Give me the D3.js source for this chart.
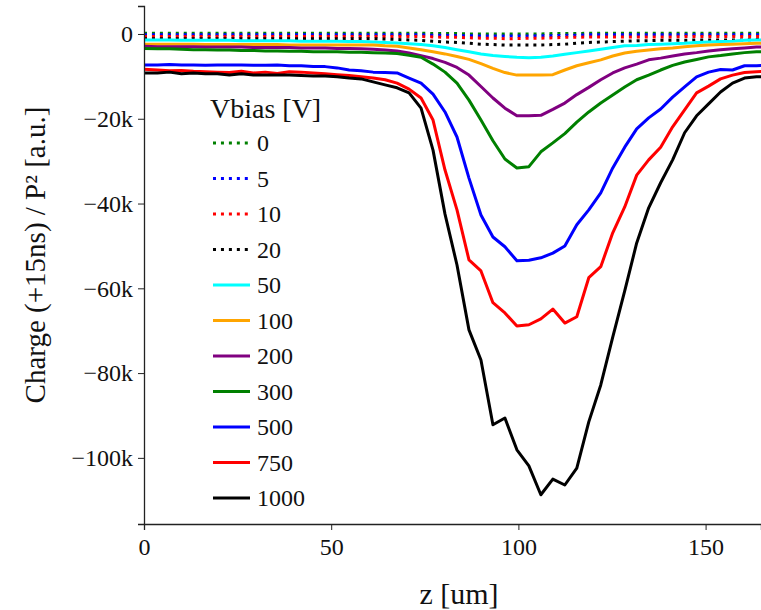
<!DOCTYPE html>
<html>
<head>
<meta charset="utf-8">
<script src="https://cdn.jsdelivr.net/npm/d3@7"></script>
<style>
  body { margin: 0; background: #fff; }
  svg { display: block; font-family: "Liberation Serif", "Times New Roman", serif; }
</style>
</head>
<body>
<svg id="chart"></svg>
<script>
// z positions [um]
const z = [0.0, 3.6, 6.8, 10.0, 13.2, 16.4, 19.6, 22.8, 26.0, 29.2,
  32.4, 35.6, 38.8, 42.0, 45.2, 48.4, 51.6, 54.8, 58.0, 61.2,
  64.4, 67.6, 70.8, 74.0, 77.2, 80.4, 83.6, 86.8, 90.0, 93.2,
  96.4, 99.6, 102.8, 106.0, 109.2, 112.4, 115.6, 118.8, 122.0, 125.2,
  128.4, 131.6, 134.8, 138.0, 141.2, 144.4, 147.6, 150.8, 154.0, 157.2,
  160.4, 163.6, 166.8];

// charge values, in thousands (k)
const q0 = [0.2, 0.2, 0.2, 0.2, 0.2, 0.2, 0.2, 0.2, 0.2, 0.2,
  0.2, 0.2, 0.2, 0.2, 0.2, 0.2, 0.2, 0.2, 0.2, 0.2,
  0.2, 0.2, 0.2, 0.2, 0.1, 0.1, 0.1, 0.0, 0.0, 0.0,
  0.0, 0.0, 0.0, 0.0, 0.1, 0.1, 0.1, 0.2, 0.2, 0.2,
  0.2, 0.2, 0.2, 0.2, 0.2, 0.2, 0.2, 0.2, 0.2, 0.2,
  0.2, 0.2, 0.2];
const q5 = [-0.2, -0.2, -0.2, -0.2, -0.2, -0.2, -0.2, -0.2, -0.2, -0.2,
  -0.2, -0.2, -0.2, -0.2, -0.2, -0.2, -0.2, -0.2, -0.2, -0.2,
  -0.2, -0.2, -0.2, -0.2, -0.3, -0.3, -0.4, -0.4, -0.5, -0.5,
  -0.5, -0.5, -0.5, -0.4, -0.4, -0.3, -0.3, -0.2, -0.2, -0.2,
  -0.2, -0.2, -0.2, -0.2, -0.2, -0.2, -0.2, -0.2, -0.2, -0.2,
  -0.2, -0.2, -0.2];
const q10 = [-0.6, -0.6, -0.6, -0.6, -0.6, -0.6, -0.6, -0.6, -0.6, -0.6,
  -0.6, -0.6, -0.6, -0.6, -0.6, -0.6, -0.6, -0.6, -0.6, -0.6,
  -0.6, -0.6, -0.6, -0.6, -0.7, -0.8, -0.8, -0.9, -1.0, -1.0,
  -1.1, -1.1, -1.0, -1.0, -0.9, -0.8, -0.8, -0.7, -0.7, -0.7,
  -0.7, -0.7, -0.7, -0.7, -0.7, -0.6, -0.6, -0.6, -0.6, -0.6,
  -0.6, -0.6, -0.6];
const q20 = [-1.1, -1.1, -1.1, -1.1, -1.1, -1.1, -1.1, -1.1, -1.1, -1.1,
  -1.1, -1.1, -1.1, -1.1, -1.1, -1.1, -1.1, -1.1, -1.1, -1.1,
  -1.2, -1.3, -1.4, -1.5, -1.7, -1.9, -2.0, -2.2, -2.4, -2.5,
  -2.6, -2.6, -2.6, -2.6, -2.5, -2.4, -2.2, -2.0, -1.9, -1.8,
  -1.7, -1.6, -1.6, -1.5, -1.5, -1.5, -1.4, -1.4, -1.4, -1.4,
  -1.4, -1.3, -1.3];
const q50 = [-1.4, -1.4, -1.4, -1.5, -1.5, -1.5, -1.5, -1.5, -1.6, -1.6,
  -1.6, -1.6, -1.6, -1.7, -1.7, -1.7, -1.7, -1.8, -1.8, -1.9,
  -2.0, -2.1, -2.3, -2.5, -2.8, -3.2, -3.7, -4.2, -4.7, -5.1,
  -5.3, -5.5, -5.6, -5.5, -5.2, -4.8, -4.4, -4.0, -3.6, -3.2,
  -2.8, -2.7, -2.5, -2.4, -2.3, -2.2, -2.0, -1.9, -1.8, -1.7,
  -1.5, -1.4, -1.4];
const q100 = [-2.4, -2.4, -2.4, -2.4, -2.4, -2.5, -2.5, -2.5, -2.5, -2.5,
  -2.5, -2.5, -2.6, -2.6, -2.6, -2.6, -2.6, -2.6, -2.6, -2.6,
  -2.8, -2.9, -3.3, -3.7, -4.2, -4.7, -5.3, -6.0, -7.0, -8.1,
  -9.1, -9.7, -9.7, -9.7, -9.6, -8.5, -7.5, -6.8, -6.1, -5.2,
  -4.5, -4.1, -3.8, -3.5, -3.3, -3.0, -2.8, -2.6, -2.5, -2.4,
  -2.3, -2.2, -2.2];
const q200 = [-2.9, -3.0, -3.0, -3.0, -3.0, -3.1, -3.1, -3.1, -3.1, -3.2,
  -3.2, -3.2, -3.2, -3.3, -3.3, -3.3, -3.4, -3.4, -3.5, -3.6,
  -3.8, -4.0, -4.5, -5.1, -5.8, -6.7, -7.9, -9.7, -12.4, -15.1,
  -17.5, -19.3, -19.3, -19.2, -17.8, -16.3, -14.3, -12.6, -10.8, -9.2,
  -8.0, -7.1, -6.1, -5.7, -5.2, -4.7, -4.4, -4.0, -3.7, -3.5,
  -3.3, -3.1, -3.1];
const q300 = [-3.4, -3.5, -3.5, -3.6, -3.7, -3.7, -3.8, -3.8, -3.9, -3.9,
  -4.0, -4.0, -4.1, -4.1, -4.2, -4.2, -4.2, -4.3, -4.3, -4.4,
  -4.5, -4.6, -5.0, -5.5, -7.1, -9.0, -11.6, -15.6, -20.3, -25.2,
  -29.5, -31.6, -31.3, -27.8, -25.7, -23.5, -20.8, -18.4, -16.3, -14.4,
  -12.5, -10.8, -9.7, -8.5, -7.4, -6.6, -6.0, -5.4, -5.1, -4.7,
  -4.4, -4.2, -4.2];
const q500 = [-7.3, -7.3, -7.2, -7.3, -7.3, -7.4, -7.3, -7.3, -7.3, -7.4,
  -7.4, -7.3, -7.5, -7.5, -7.7, -7.7, -8.0, -8.5, -8.7, -9.0,
  -9.1, -9.2, -10.4, -11.6, -14.2, -18.4, -24.3, -34.0, -42.7, -47.9,
  -50.2, -53.5, -53.4, -52.8, -51.7, -50.0, -45.0, -41.5, -37.5, -31.6,
  -26.7, -22.4, -19.8, -17.7, -14.9, -12.5, -10.1, -9.0, -8.4, -8.5,
  -7.5, -7.5, -7.4];
const q750 = [-8.3, -8.5, -8.7, -8.6, -8.8, -8.9, -9.0, -9.1, -8.8, -9.2,
  -9.0, -9.3, -8.9, -9.0, -9.2, -9.4, -9.6, -9.8, -10.1, -10.4,
  -10.8, -11.6, -13.0, -15.1, -20.3, -32.1, -41.5, -53.3, -55.9, -63.4,
  -65.8, -68.9, -68.6, -67.2, -64.9, -68.2, -66.7, -57.5, -54.9, -46.9,
  -40.8, -33.3, -29.7, -26.7, -21.9, -17.9, -13.9, -12.3, -10.6, -9.7,
  -9.1, -8.9, -8.8];
const q1000 = [-9.2, -9.2, -9.0, -9.4, -9.2, -9.4, -9.4, -9.7, -9.4, -9.7,
  -9.7, -9.7, -9.7, -9.8, -9.9, -9.9, -10.1, -10.4, -10.6, -11.3,
  -12.0, -12.7, -13.9, -17.5, -27.4, -42.5, -54.5, -69.8, -76.9, -92.2,
  -90.6, -98.1, -101.9, -108.7, -105.0, -106.4, -102.4, -91.5, -82.8, -71.5,
  -60.6, -49.3, -41.0, -35.1, -29.7, -23.3, -19.3, -16.5, -13.7, -11.6,
  -10.4, -10.1, -10.1];

const vbias = ["0", "5", "10", "20", "50", "100", "200", "300", "500", "750", "1000"];
const colors = ["green", "blue", "red", "black", "cyan", "orange", "purple", "green", "blue", "red", "black"];
const dotted = [true, true, true, true, false, false, false, false, false, false, false];
const xTicks = [0, 50, 100, 150];
const yTicks = [0, -20, -40, -60, -80, -100];

const values = [q0, q5, q10, q20, q50, q100, q200, q300, q500, q750, q1000];
const series = vbias.map((v, i) => ({
  label: v, color: colors[i], dotted: dotted[i],
  points: z.map((zz, j) => [zz, values[i][j]])
}));

const W = 761, H = 610;
const plotL = 144, plotR = 761, plotT = 6, plotB = 524;

const svg = d3.select("#chart").attr("width", W).attr("height", H);

const x = d3.scaleLinear([0, 164.8], [plotL, plotR]);
const y = d3.scaleLinear([-115.6, 6.6], [plotB, plotT]);

svg.append("clipPath").attr("id", "area")
  .append("rect")
  .attr("x", plotL).attr("y", plotT)
  .attr("width", plotR - plotL).attr("height", plotB - plotT);

const line = d3.line().x(d => x(d[0])).y(d => y(d[1]));

svg.append("g").attr("clip-path", "url(#area)")
  .selectAll("path")
  .data(series)
  .join("path")
  .attr("fill", "none")
  .attr("stroke", d => d.color)
  .attr("stroke-width", 3)
  .attr("stroke-dasharray", d => d.dotted ? "3,4.95" : null)
  .attr("stroke-linejoin", "round")
  .attr("d", d => line(d.points));

// axes
const fmt = v => v === 0 ? "0" : "\u2212" + Math.abs(v) + "k";

const gy = svg.append("g")
  .attr("transform", `translate(${plotL},0)`)
  .call(d3.axisLeft(y).tickValues(yTicks).tickFormat(fmt).tickSizeOuter(0).tickSize(6).tickPadding(5));
const gx = svg.append("g")
  .attr("transform", `translate(0,${plotB})`)
  .call(d3.axisBottom(x).tickValues(xTicks).tickFormat(d3.format("d")).tickSizeOuter(0).tickSize(6).tickPadding(8));

[gx, gy].forEach(g => {
  g.attr("font-family", null).attr("font-size", null);
  g.select(".domain").attr("stroke", "#222").attr("stroke-width", 1.3);
  g.selectAll(".tick line").attr("stroke", "#222").attr("stroke-width", 1);
  g.selectAll(".tick text").attr("fill", "#111").style("font-size", "24px");
});

svg.append("text")
  .attr("x", 459)
  .attr("y", 604)
  .attr("text-anchor", "middle")
  .attr("fill", "#111")
  .style("font-size", "30px")
  .text("z [um]");

svg.append("text")
  .attr("transform", `translate(45,255) rotate(-90)`)
  .attr("text-anchor", "middle")
  .attr("fill", "#111")
  .style("font-size", "29px")
  .text("Charge (+15ns) / P\u00b2 [a.u.]");

// legend
const legend = svg.append("g");
legend.append("text")
  .attr("x", 210).attr("y", 118)
  .attr("fill", "#111")
  .style("font-size", "28px")
  .text("Vbias [V]");

const item = legend.selectAll("g.item")
  .data(series)
  .join("g")
  .attr("class", "item")
  .attr("transform", (d, i) => `translate(0,${143 + i * 35.5})`);

item.append("line")
  .attr("x1", 213).attr("x2", 250)
  .attr("stroke", d => d.color)
  .attr("stroke-width", 3)
  .attr("stroke-dasharray", d => d.dotted ? "3,4.95" : null);

item.append("text")
  .attr("x", 257).attr("y", 8)
  .attr("fill", "#111")
  .style("font-size", "24px")
  .text(d => d.label);
</script>
</body>
</html>
